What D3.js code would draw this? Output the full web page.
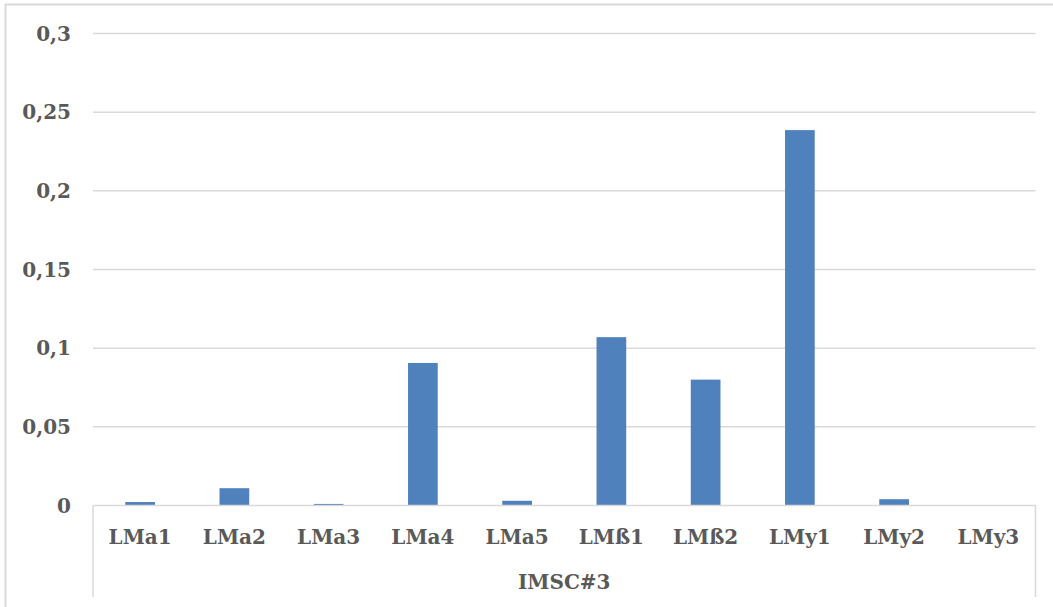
<!DOCTYPE html>
<html><head><meta charset="utf-8">
<script src="https://cdn.jsdelivr.net/npm/d3@7/dist/d3.min.js"></script>
<style>body{margin:0;background:#fff}svg{display:block}</style>
</head><body>
<svg id="c" width="1053" height="607"></svg>
<script>
const categories = ["LMa1","LMa2","LMa3","LMa4","LMa5","LMß1","LMß2","LMy1","LMy2","LMy3"];
const values = [0.0022,0.011,0.001,0.0906,0.003,0.107,0.080,0.2386,0.004,0];
const yTicks = [0,0.05,0.1,0.15,0.2,0.25,0.3];
const groupLabel = "IMSC#3";

const svg = d3.select("#c");
const font = "'DejaVu Serif', 'Liberation Serif', serif";
const fs = 20;
const L = 93, R = 1035.5, T = 33.5, B = 505.5;

// outer border
svg.append("path").attr("d","M5.5,607 V4.5 H1053").attr("fill","none").attr("stroke","#d9d9d9").attr("stroke-width",2);

const x = d3.scaleBand().domain(categories).range([L,R]).paddingInner(0.685).paddingOuter(0.3425);
const y = d3.scaleLinear().domain([0,0.3]).range([B,T]);

// gridlines
svg.append("g").selectAll("line").data(yTicks.filter(d=>d>0)).join("line")
  .attr("x1",L).attr("x2",R).attr("y1",d=>y(d)).attr("y2",d=>y(d))
  .attr("stroke","#d9d9d9").attr("stroke-width",1.5);

// y labels
const fmt = d => String(+d.toFixed(2)).replace(".",",");
svg.append("g").selectAll("text").data(yTicks).join("text")
  .attr("x",71).attr("y",d=>y(d)).attr("dy","0.35em").attr("text-anchor","end")
  .attr("font-family",font).attr("font-weight","bold").attr("font-size",fs).attr("fill","#595959")
  .text(fmt);

// bars
svg.append("g").selectAll("rect").data(categories).join("rect")
  .attr("x",d=>x(d)).attr("width",x.bandwidth())
  .attr("y",(d,i)=>y(values[i])).attr("height",(d,i)=>B-y(values[i]))
  .attr("fill","#4f81bd");

// axis lines
svg.append("line").attr("x1",L).attr("x2",R).attr("y1",B).attr("y2",B).attr("stroke","#d9d9d9").attr("stroke-width",1.5);
[L,R].forEach(px=>svg.append("line").attr("x1",px).attr("x2",px).attr("y1",B).attr("y2",597).attr("stroke","#d9d9d9").attr("stroke-width",1.5));

// category labels
svg.append("g").selectAll("text").data(categories).join("text")
  .attr("x",d=>x(d)+x.bandwidth()/2).attr("y",537).attr("dy","0.35em").attr("text-anchor","middle")
  .attr("font-family",font).attr("font-weight","bold").attr("font-size",fs).attr("fill","#595959")
  .text(d=>d);

svg.append("text").attr("x",(L+R)/2).attr("y",582).attr("dy","0.35em").attr("text-anchor","middle")
  .attr("font-family",font).attr("font-weight","bold").attr("font-size",fs).attr("fill","#595959")
  .text(groupLabel);
</script>
</body></html>
